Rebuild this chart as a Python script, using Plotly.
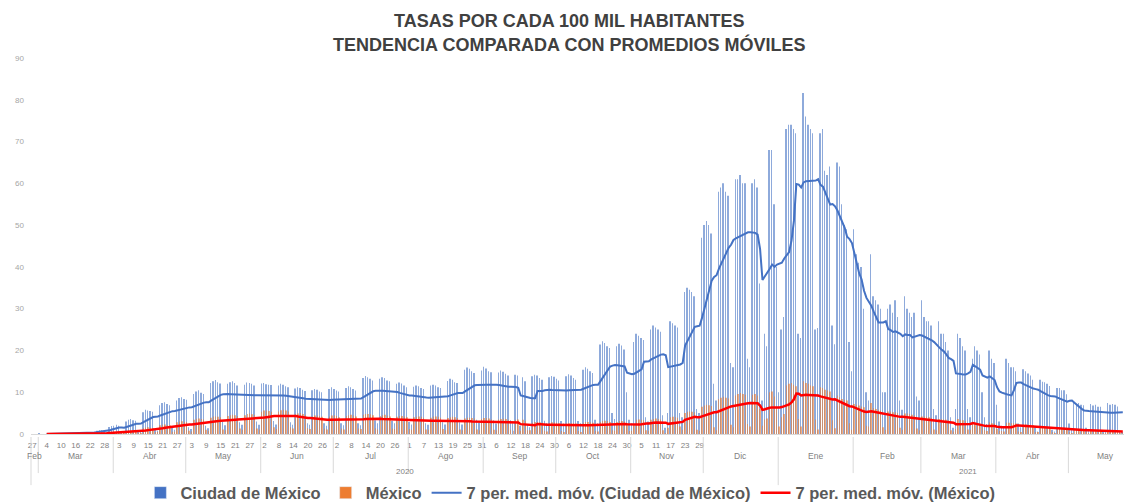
import pandas as pd
import plotly.graph_objects as go

# ---------------- data ----------------
start_date = "2020-02-27"

# Ciudad de México: daily rate per 100k (Thu 27 Feb - Sun 1 Mar, then weeks Mon..Sun)
cdmx_first_days = [0.0, 0.0, 0.0, 0.02]
cdmx_weeks = [
    [0.0, 0.0, 0.0, 0.1, 0.0, 0.0, 0.1],
    [0.1, 0.1, 0.1, 0.2, 0.1, 0.1, 0.1],
    [0.2, 0.3, 0.3, 0.4, 0.4, 0.3, 0.2],
    [0.5, 0.6, 0.8, 0.9, 0.9, 0.7, 0.5],
    [1.7, 1.9, 2.0, 2.2, 2.0, 0.5, 0.2],
    [3.0, 3.4, 3.6, 3.3, 3.2, 0.6, 0.4],
    [5.2, 5.8, 5.6, 5.5, 5.3, 1.2, 0.8],
    [6.9, 7.4, 7.6, 7.2, 6.9, 1.5, 1.0],
    [8.0, 8.6, 8.8, 8.4, 8.2, 1.6, 1.2],
    [9.6, 10.2, 10.5, 9.9, 9.6, 2.0, 1.4],
    [12.2, 12.6, 12.9, 12.4, 12.1, 2.9, 2.1],
    [12.0, 12.4, 12.6, 12.2, 11.6, 2.8, 2.2],
    [11.8, 12.3, 12.2, 12.0, 11.6, 3.0, 2.2],
    [12.1, 12.2, 11.9, 11.8, 11.7, 3.1, 2.3],
    [11.6, 12.0, 11.8, 11.4, 11.2, 2.8, 2.2],
    [10.9, 11.2, 11.0, 10.6, 10.3, 2.6, 2.2],
    [10.5, 10.8, 10.6, 10.2, 10.0, 2.6, 2.0],
    [10.8, 11.2, 10.8, 10.4, 10.2, 2.6, 2.1],
    [11.0, 11.4, 11.2, 10.8, 10.4, 2.6, 2.1],
    [13.4, 13.9, 13.6, 13.2, 12.8, 3.3, 2.6],
    [13.2, 13.6, 13.4, 12.8, 12.6, 3.2, 2.6],
    [12.0, 12.3, 12.1, 11.6, 11.2, 2.9, 2.3],
    [11.3, 11.6, 11.4, 11.0, 10.8, 2.6, 2.2],
    [11.6, 11.8, 11.6, 11.2, 11.0, 2.8, 2.3],
    [12.7, 13.2, 13.0, 12.4, 12.2, 2.8, 2.3],
    [15.4, 15.9, 15.6, 15.0, 14.6, 3.4, 2.7],
    [15.2, 16.1, 15.7, 15.0, 14.8, 3.3, 2.5],
    [14.7, 15.2, 14.9, 14.4, 14.0, 3.3, 2.6],
    [14.2, 14.0, 2.0, 13.6, 12.6, 2.2, 1.6],
    [13.8, 14.2, 14.0, 13.4, 13.0, 3.2, 2.6],
    [13.6, 13.9, 13.7, 13.2, 12.8, 3.1, 2.5],
    [13.8, 14.3, 14.0, 13.4, 13.0, 3.1, 2.6],
    [15.4, 16.0, 15.6, 15.0, 14.6, 3.4, 2.6],
    [21.4, 22.2, 21.8, 21.0, 20.6, 5.0, 3.6],
    [21.0, 21.6, 21.2, 20.2, 10.0, 3.4, 2.6],
    [22.0, 24.0, 23.5, 23.0, 22.5, 4.0, 3.0],
    [25.0, 26.0, 25.5, 25.0, 24.5, 4.5, 1.5],
    [5.0, 27.0, 26.5, 26.0, 25.5, 5.0, 4.0],
    [34.0, 35.0, 34.5, 34.0, 33.0, 6.0, 5.0],
    [47.0, 50.0, 51.0, 50.0, 48.0, 12.0, 8.0],
    [58.0, 59.0, 60.0, 58.0, 57.0, 17.0, 16.0],
    [61.0, 61.0, 62.0, 60.0, 60.0, 18.0, 16.0],
    [60.0, 61.0, 59.0, 36.0, 8.0, 24.0, 21.0],
    [68.0, 68.0, 55.0, 40.0, 10.0, 25.0, 28.0],
    [73.0, 74.0, 74.0, 73.0, 72.0, 24.0, 23.0],
    [81.6, 76.0, 74.0, 73.0, 72.0, 25.0, 25.4],
    [72.0, 73.0, 63.0, 62.0, 64.0, 26.0, 21.5],
    [65.0, 64.0, 55.0, 50.0, 49.0, 22.0, 15.0],
    [49.0, 43.0, 41.0, 40.0, 30.0, 10.0, 8.0],
    [43.0, 33.0, 32.0, 31.0, 30.0, 10.0, 10.0],
    [30.0, 31.0, 29.0, 32.0, 28.0, 8.0, 5.8],
    [33.0, 30.0, 29.0, 28.0, 29.0, 9.0, 8.0],
    [32.0, 28.0, 27.0, 27.0, 26.0, 6.0, 4.5],
    [27.0, 24.0, 24.0, 22.0, 20.0, 4.0, 1.5],
    [6.0, 24.0, 23.0, 21.0, 20.0, 6.0, 4.0],
    [18.0, 21.0, 20.0, 19.0, 10.0, 4.0, 2.4],
    [20.0, 18.0, 17.0, 7.0, 3.0, 2.0, 1.6],
    [18.0, 17.0, 16.0, 16.0, 15.0, 2.5, 1.6],
    [15.5, 15.0, 14.5, 14.0, 13.0, 1.6, 0.6],
    [13.0, 12.5, 12.4, 12.0, 11.5, 1.0, 0.6],
    [11.0, 11.0, 10.5, 10.5, 9.5, 2.5, 1.0],
    [7.5, 7.2, 7.4, 7.0, 6.9, 1.5, 1.0],
    [7.2, 6.8, 7.0, 6.5, 6.5, 0.5, 0.5],
    [7.4, 7.0, 7.2, 7.0, 6.6, 0.8, 0.4],
]

# México: daily rate per 100k
mex_first_days = [0.0, 0.0, 0.0, 0.0]
mex_weeks = [
    [0.0, 0.0, 0.0, 0.01, 0.0, 0.0, 0.01],
    [0.01, 0.02, 0.02, 0.03, 0.03, 0.01, 0.01],
    [0.05, 0.07, 0.09, 0.1, 0.11, 0.07, 0.05],
    [0.15, 0.2, 0.24, 0.26, 0.25, 0.16, 0.14],
    [0.4, 0.45, 0.45, 0.45, 0.42, 0.15, 0.13],
    [0.72, 0.78, 0.8, 0.76, 0.74, 0.2, 0.2],
    [1.45, 1.55, 1.6, 1.5, 1.45, 0.45, 0.4],
    [2.1, 2.2, 2.25, 2.15, 2.1, 0.55, 0.55],
    [2.8, 3.0, 3.05, 2.95, 2.9, 0.8, 0.6],
    [3.4, 3.65, 3.7, 3.6, 3.5, 1.0, 0.75],
    [3.9, 4.2, 4.2, 4.1, 4.0, 1.1, 0.9],
    [4.3, 4.5, 4.6, 4.5, 4.3, 1.3, 1.0],
    [4.5, 4.8, 4.9, 4.7, 4.6, 1.3, 1.1],
    [5.3, 5.6, 5.6, 5.5, 5.3, 1.6, 1.2],
    [5.4, 5.7, 5.8, 5.6, 5.4, 1.6, 1.3],
    [4.7, 4.9, 5.0, 4.8, 4.6, 1.4, 1.2],
    [4.2, 4.4, 4.4, 4.3, 4.1, 1.3, 1.1],
    [4.2, 4.4, 4.5, 4.3, 4.0, 1.3, 1.1],
    [4.3, 4.5, 4.6, 4.4, 4.2, 1.3, 1.2],
    [4.6, 4.8, 4.8, 4.7, 4.5, 1.4, 1.1],
    [4.3, 4.5, 4.6, 4.4, 4.2, 1.3, 1.2],
    [4.1, 4.3, 4.3, 4.2, 4.0, 1.2, 1.0],
    [4.0, 4.1, 4.2, 4.1, 3.9, 1.1, 1.0],
    [3.9, 4.2, 4.2, 4.1, 3.9, 1.2, 0.9],
    [3.8, 4.0, 4.1, 4.0, 3.8, 1.1, 0.9],
    [3.7, 3.9, 3.9, 3.8, 3.7, 1.1, 0.9],
    [3.6, 3.8, 3.8, 3.7, 3.5, 1.0, 0.9],
    [3.5, 3.6, 3.7, 3.6, 3.4, 1.0, 0.8],
    [3.4, 3.5, 0.8, 3.4, 3.2, 0.9, 0.9],
    [2.7, 2.9, 2.9, 2.8, 2.7, 0.8, 0.6],
    [2.6, 2.8, 2.8, 2.7, 2.6, 0.7, 0.5],
    [2.5, 2.6, 2.6, 2.6, 2.5, 0.7, 0.5],
    [2.7, 2.9, 2.9, 2.8, 2.7, 0.8, 0.6],
    [2.9, 3.1, 3.2, 3.1, 2.9, 0.9, 0.8],
    [2.9, 3.1, 3.1, 3.0, 2.5, 0.7, 0.8],
    [2.2, 3.4, 3.5, 3.4, 3.3, 0.9, 0.8],
    [3.4, 3.6, 3.7, 3.6, 3.5, 0.9, 0.2],
    [1.5, 4.0, 4.1, 4.0, 3.9, 1.8, 1.0],
    [5.0, 5.3, 5.4, 5.3, 5.2, 1.0, 0.8],
    [6.5, 6.8, 7.0, 6.9, 6.7, 1.6, 0.9],
    [8.3, 8.7, 8.9, 8.7, 8.5, 2.2, 1.6],
    [9.2, 9.6, 9.8, 9.6, 9.4, 2.4, 1.8],
    [9.4, 9.6, 9.2, 6.0, 2.0, 3.5, 3.7],
    [10.0, 10.2, 9.0, 6.4, 1.8, 4.0, 4.8],
    [11.6, 12.0, 12.2, 11.8, 11.4, 3.6, 1.8],
    [12.6, 12.2, 12.0, 11.6, 11.4, 3.5, 1.1],
    [11.2, 11.0, 10.6, 10.4, 10.2, 3.3, 1.4],
    [9.2, 8.8, 8.4, 8.2, 8.0, 2.6, 1.0],
    [7.2, 7.0, 6.8, 6.6, 6.4, 2.0, 1.8],
    [7.4, 6.2, 6.0, 5.8, 5.6, 1.6, 1.0],
    [5.4, 5.4, 5.2, 5.2, 5.0, 1.5, 1.0],
    [4.9, 4.9, 4.8, 4.6, 4.5, 1.3, 0.9],
    [4.2, 4.2, 4.1, 4.0, 3.9, 1.1, 0.9],
    [3.6, 3.6, 3.5, 3.4, 3.3, 0.9, 0.6],
    [1.2, 3.6, 3.4, 3.3, 3.2, 1.1, 1.0],
    [2.6, 2.6, 2.5, 2.4, 1.6, 0.9, 0.7],
    [2.8, 2.6, 2.5, 1.2, 0.8, 0.7, 0.6],
    [2.7, 2.7, 2.6, 2.6, 2.5, 0.6, 0.3],
    [2.3, 2.3, 2.2, 2.2, 2.1, 0.5, 0.3],
    [1.8, 1.8, 1.7, 1.7, 1.6, 0.3, 0.2],
    [1.5, 1.5, 1.4, 1.4, 1.4, 0.3, 0.2],
    [1.2, 1.2, 1.2, 1.1, 1.1, 0.3, 0.2],
    [1.0, 0.9, 0.9, 0.9, 0.9, 0.2, 0.1],
    [0.8, 0.8, 0.8, 0.8, 0.7, 0.1, 0.2],
]

series_names = ["Ciudad de México", "México",
                "7 per. med. móv. (Ciudad de México)", "7 per. med. móv. (México)"]
day_tick_dates = pd.date_range("2020-02-27", "2020-11-29", freq="6D")
day_tick_labels = [str(d.day) for d in day_tick_dates]
month_names = {1: "Ene", 2: "Feb", 3: "Mar", 4: "Abr", 5: "May", 6: "Jun",
               7: "Jul", 8: "Ago", 9: "Sep", 10: "Oct", 11: "Nov", 12: "Dic"}
year_labels = ["2020", "2021"]
year_label_dates = ["2020-07-30", "2021-03-20"]

# ---------------- build ----------------
cdmx = cdmx_first_days + [v for w in cdmx_weeks for v in w]
mex = mex_first_days + [v for w in mex_weeks for v in w]
dates = pd.date_range(start_date, periods=len(cdmx), freq="D")
ma_cdmx = pd.Series(cdmx).rolling(7).mean()
ma_mex = pd.Series(mex).rolling(7).mean()

BLUE = "#4472C4"
ORANGE = "#ED7D31"
RED = "#FF0000"
FONT = "Liberation Sans"

fig = go.Figure()
fig.add_trace(go.Bar(x=dates, y=cdmx, name=series_names[0], showlegend=False, opacity=0.6,
                     marker=dict(color=BLUE, line=dict(width=0))))
fig.add_trace(go.Bar(x=dates, y=mex, name=series_names[1], showlegend=False, opacity=0.6,
                     marker=dict(color=ORANGE, line=dict(width=0))))
# legend entries for the bar series (solid swatches, no marks drawn)
fig.add_trace(go.Bar(x=[None], y=[None], name=series_names[0], marker=dict(color=BLUE), legendrank=1))
fig.add_trace(go.Bar(x=[None], y=[None], name=series_names[1], marker=dict(color=ORANGE), legendrank=2))
fig.add_trace(go.Scatter(x=dates, y=ma_cdmx, name=series_names[2], mode="lines", legendrank=3,
                         line=dict(color=BLUE, width=2)))
fig.add_trace(go.Scatter(x=dates, y=ma_mex, name=series_names[3], mode="lines", legendrank=4,
                         line=dict(color=RED, width=2.5)))

x0 = dates[0] - pd.Timedelta(hours=12)
x1 = dates[-1] + pd.Timedelta(hours=12)

# month labels and separators
annotations = []
shapes = []
months = pd.period_range(dates[0], dates[-1], freq="M")
for p in months:
    m_start = max(p.start_time, dates[0])
    m_end = p.end_time.normalize()
    mid = m_start + (m_end - m_start) / 2
    annotations.append(dict(x=mid, y=0, xref="x", yref="paper", yshift=-29,
                            text=month_names[p.month], showarrow=False,
                            font=dict(family=FONT, size=8.5, color="#7f7f7f")))
    if p.start_time > dates[0]:
        bx = p.start_time - pd.Timedelta(hours=12)
        long_line = p.month == 1
        shapes.append(dict(type="line", xref="x", yref="paper", x0=bx, x1=bx,
                           y0=-0.008, y1=-0.136 if long_line else -0.104,
                           line=dict(color="#d9d9d9", width=1)))
shapes.append(dict(type="line", xref="paper", yref="paper", x0=0, x1=0,
                   y0=-0.008, y1=-0.136, line=dict(color="#d9d9d9", width=1)))
for lab, d in zip(year_labels, year_label_dates):
    annotations.append(dict(x=d, y=0, xref="x", yref="paper", yshift=-44,
                            text=lab, showarrow=False,
                            font=dict(family=FONT, size=8, color="#7f7f7f")))

fig.update_layout(
    width=1125, height=504,
    margin=dict(l=31, r=1, t=58, b=70),
    paper_bgcolor="white", plot_bgcolor="white",
    barmode="group", bargap=0.3, bargroupgap=0,
    title=dict(text="TASAS POR CADA 100 MIL HABITANTES<br>TENDENCIA COMPARADA CON PROMEDIOS MÓVILES",
               x=0.506, xanchor="center", xref="container",
               y=0.946, yanchor="middle", yref="container",
               font=dict(family=FONT, size=18, color="#404040", weight="bold")),
    legend=dict(orientation="h", x=0.507, xanchor="center", xref="container",
                y=0.022, yanchor="middle", yref="container",
                font=dict(family=FONT, size=16.5, color="#595959", weight="bold"),
                traceorder="normal", itemwidth=30, bgcolor="rgba(0,0,0,0)"),
    showlegend=True,
    annotations=annotations,
    shapes=shapes,
)
fig.update_xaxes(type="date", range=[x0, x1], tickmode="array",
                 tickvals=day_tick_dates, ticktext=day_tick_labels,
                 tickfont=dict(family=FONT, size=8, color="#7f7f7f"),
                 ticks="", showgrid=False, zeroline=False, automargin=False,
                 showline=True, linecolor="#d9d9d9", linewidth=1,
                 ticklabelstandoff=3)
fig.update_yaxes(range=[0, 90], dtick=10, tickfont=dict(family=FONT, size=8, color="#a6a6a6"),
                 showgrid=False, zeroline=False, showline=False, ticks="", automargin=False,
                 ticklabelstandoff=6)

fig.write_html("out.html", config={"displayModeBar": False},
               post_script="document.body.style.margin='0';")
